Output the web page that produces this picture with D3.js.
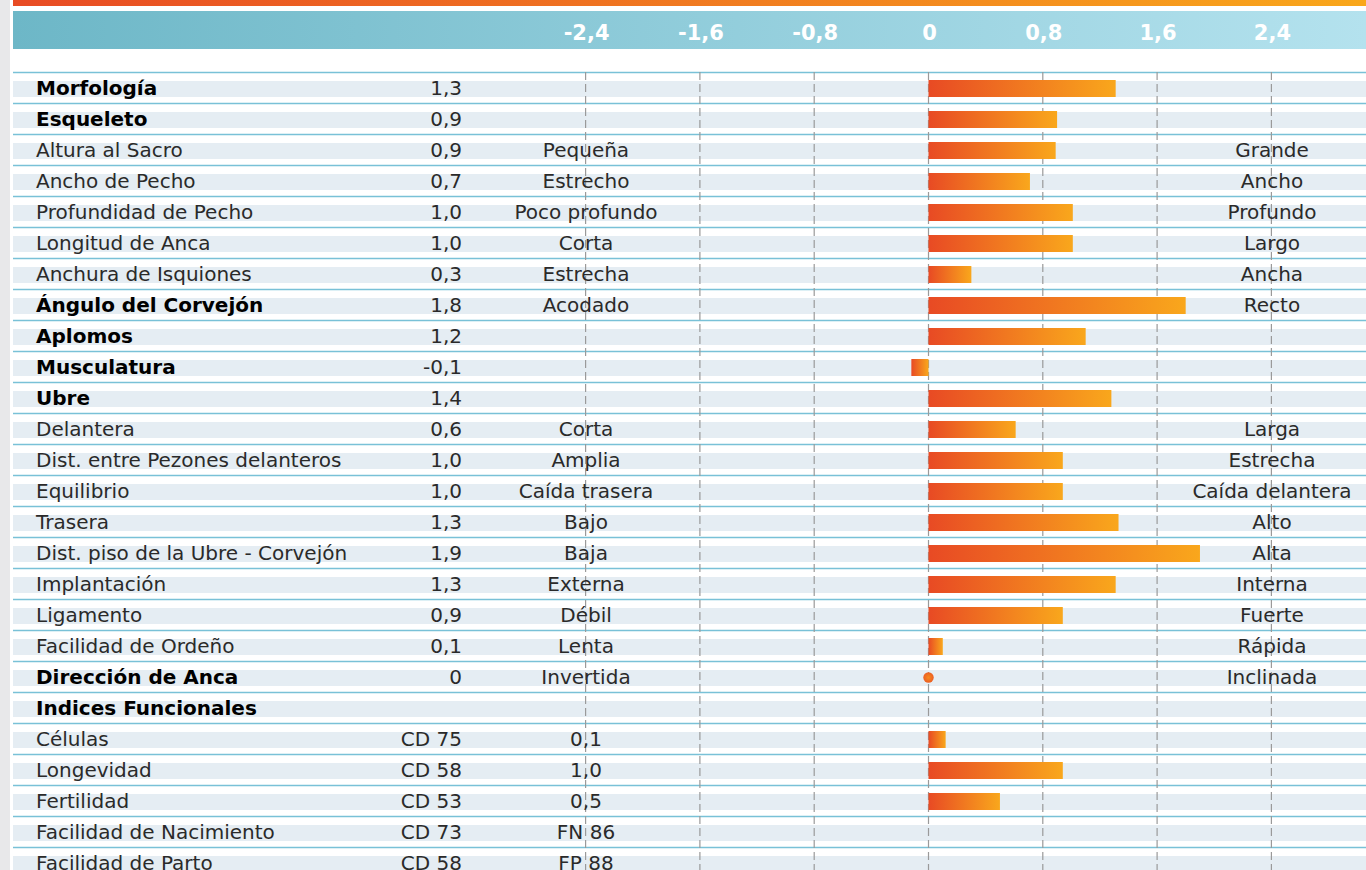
<!DOCTYPE html>
<html>
<head>
<meta charset="utf-8">
<script src="https://cdn.jsdelivr.net/npm/d3@7"></script>
<style>
  html, body { margin: 0; padding: 0; background: #ffffff; }
  svg { display: block; }
</style>
</head>
<body>
<svg id="chart" width="1366" height="870"></svg>
<script>
// row labels, left column
var labels = ['Morfología', 'Esqueleto', 'Altura al Sacro', 'Ancho de Pecho', 'Profundidad de Pecho',
  'Longitud de Anca', 'Anchura de Isquiones', 'Ángulo del Corvejón', 'Aplomos', 'Musculatura', 'Ubre',
  'Delantera', 'Dist. entre Pezones delanteros', 'Equilibrio', 'Trasera', 'Dist. piso de la Ubre - Corvejón',
  'Implantación', 'Ligamento', 'Facilidad de Ordeño', 'Dirección de Anca', 'Indices Funcionales',
  'Células', 'Longevidad', 'Fertilidad', 'Facilidad de Nacimiento', 'Facilidad de Parto'];
var boldRows = [1, 1, 0, 0, 0, 0, 0, 1, 1, 1, 1, 0, 0, 0, 0, 0, 0, 0, 0, 1, 1, 0, 0, 0, 0, 0];
// printed value column
var valueText = ['1,3', '0,9', '0,9', '0,7', '1,0', '1,0', '0,3', '1,8', '1,2', '-0,1', '1,4',
  '0,6', '1,0', '1,0', '1,3', '1,9', '1,3', '0,9', '0,1', '0', '',
  'CD 75', 'CD 58', 'CD 53', 'CD 73', 'CD 58'];
// left extreme / index value column
var lowText = ['', '', 'Pequeña', 'Estrecho', 'Poco profundo', 'Corta', 'Estrecha', 'Acodado', '', '', '',
  'Corta', 'Amplia', 'Caída trasera', 'Bajo', 'Baja', 'Externa', 'Débil', 'Lenta', 'Invertida', '',
  '0,1', '1,0', '0,5', 'FN 86', 'FP 88'];
// right extreme column
var highText = ['', '', 'Grande', 'Ancho', 'Profundo', 'Largo', 'Ancha', 'Recto', '', '', '',
  'Larga', 'Estrecha', 'Caída delantera', 'Alto', 'Alta', 'Interna', 'Fuerte', 'Rápida', 'Inclinada', '',
  '', '', '', '', ''];
// bar values as drawn (null = no mark)
var barValues = [1.31, 0.90, 0.89, 0.71, 1.01, 1.01, 0.30, 1.80, 1.10, -0.12, 1.28,
  0.61, 0.94, 0.94, 1.33, 1.90, 1.31, 0.94, 0.10, 0, null,
  0.12, 0.94, 0.50, null, null];
var tickValues = [-2.4, -1.6, -0.8, 0, 0.8, 1.6, 2.4];

var W = 1366, H = 870;
var rowTop0 = 72, rowH = 31;
var font = "'DejaVu Sans', sans-serif";

var svg = d3.select('#chart');
var defs = svg.append('defs');

function grad(id, stops) {
  var g = defs.append('linearGradient').attr('id', id)
    .attr('x1', '0%').attr('x2', '100%').attr('y1', '0%').attr('y2', '0%');
  stops.forEach(function(s) {
    g.append('stop').attr('offset', s[0]).attr('stop-color', s[1]);
  });
}
grad('topGrad', [['0%', '#e84b24'], ['55%', '#f17e20'], ['100%', '#f9a71b']]);
grad('headGrad', [['0%', '#6db7c7'], ['100%', '#b4e2ee']]);
grad('barGrad', [['0%', '#e84a24'], ['100%', '#f9a71c']]);
var rg = defs.append('radialGradient').attr('id', 'dotGrad');
rg.append('stop').attr('offset', '0%').attr('stop-color', '#f58a1f');
rg.append('stop').attr('offset', '100%').attr('stop-color', '#ec5f23');

var x = d3.scaleLinear().domain([-2.4, 2.4]).range([585.6, 1271.4]);
var y = function(i) { return rowTop0 + i * rowH; };

// left page strip
svg.append('rect').attr('x', 0).attr('y', 0).attr('width', 10).attr('height', H).attr('fill', '#e8e8ea');

// top orange bar and header band
svg.append('rect').attr('x', 13).attr('y', 0).attr('width', W - 13).attr('height', 6).attr('fill', 'url(#topGrad)');
svg.append('rect').attr('x', 13).attr('y', 11).attr('width', W - 13).attr('height', 38).attr('fill', 'url(#headGrad)');

svg.append('g').selectAll('text').data(tickValues).join('text')
  .attr('x', function(d) { return x(d) + 1; })
  .attr('y', 40)
  .attr('text-anchor', 'middle')
  .attr('font-family', font)
  .attr('font-weight', 'bold')
  .attr('font-size', 21)
  .attr('fill', '#ffffff')
  .text(function(d) { return d3.format('.1f')(d).replace('.', ',').replace('0,0', '0').replace('−', '-'); });

// row bands and separators
var rows = svg.append('g');
rows.selectAll('rect').data(labels).join('rect')
  .attr('x', 13).attr('y', function(d, i) { return y(i) + 9; })
  .attr('width', W - 13).attr('height', 16)
  .attr('fill', '#e5edf3');
rows.selectAll('line').data(labels).join('line')
  .attr('x1', 13).attr('x2', W)
  .attr('y1', function(d, i) { return y(i) + 0.5; })
  .attr('y2', function(d, i) { return y(i) + 0.5; })
  .attr('stroke', '#79c1d7').attr('stroke-width', 1.6);

// dashed gridlines
svg.append('g').selectAll('line').data(tickValues).join('line')
  .attr('x1', function(d) { return x(d); }).attr('x2', function(d) { return x(d); })
  .attr('y1', rowTop0).attr('y2', H)
  .attr('stroke', '#9a9a9a').attr('stroke-width', 1.2)
  .attr('stroke-dasharray', '8,4');

// bars
var barIdx = d3.range(labels.length).filter(function(i) { return barValues[i] !== null && barValues[i] !== 0; });
svg.append('g').selectAll('rect').data(barIdx).join('rect')
  .attr('x', function(i) { return x(Math.min(0, barValues[i])); })
  .attr('y', function(i) { return y(i) + 8; })
  .attr('width', function(i) { return Math.abs(x(barValues[i]) - x(0)); })
  .attr('height', 17)
  .attr('fill', 'url(#barGrad)');

// zero value shown as a dot
var dotIdx = d3.range(labels.length).filter(function(i) { return barValues[i] === 0; });
svg.append('g').selectAll('circle').data(dotIdx).join('circle')
  .attr('cx', x(0)).attr('cy', function(i) { return y(i) + 16.5; })
  .attr('r', 5.2).attr('fill', 'url(#dotGrad)');

// text columns
function column(arr, xpos, anchor, useBold) {
  svg.append('g').selectAll('text').data(arr).join('text')
    .attr('x', xpos)
    .attr('y', function(d, i) { return y(i) + 23; })
    .attr('text-anchor', anchor)
    .attr('font-family', font)
    .attr('font-size', 20)
    .attr('font-weight', function(d, i) { return useBold && boldRows[i] ? 'bold' : 'normal'; })
    .attr('fill', function(d, i) { return useBold && boldRows[i] ? '#000000' : '#2a2a2a'; })
    .text(function(d) { return d; });
}
column(labels, 36, 'start', true);
column(valueText, 462, 'end', false);
column(lowText, 586, 'middle', false);
column(highText, 1272, 'middle', false);
</script>
</body>
</html>
